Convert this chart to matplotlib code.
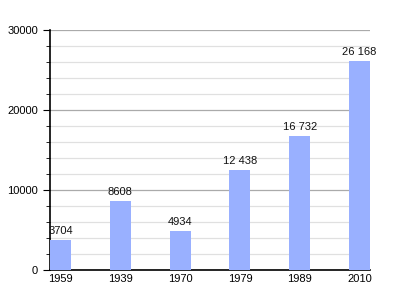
import matplotlib
matplotlib.use("Agg")
from matplotlib import pyplot as plt
from matplotlib.ticker import MultipleLocator

plt.rcParams["font.family"] = ["Liberation Sans", "DejaVu Sans"]

years = ["1959", "1939", "1970", "1979", "1989", "2010"]
population = [3704, 8608, 4934, 12438, 16732, 26168]
value_labels = ["3704", "8608", "4934", "12 438", "16 732", "26 168"]

fig = plt.figure(figsize=(4, 3), dpi=100)
ax = fig.add_axes([0.125, 0.1, 0.8, 0.8])

x = range(len(years))
ax.bar(x, population, width=0.35, color="#99b0ff", zorder=3)

for i, (v, lab) in enumerate(zip(population, value_labels)):
    ax.text(i, v + 500, lab, ha="center", va="bottom", fontsize=8, color="#111111")

ax.set_xlim(-0.175, 5.175)
ax.set_ylim(0, 30000)
ax.set_xticks(list(x))
ax.set_xticklabels(years, fontsize=8)
ax.yaxis.set_major_locator(MultipleLocator(10000))
ax.yaxis.set_minor_locator(MultipleLocator(2000))
ax.tick_params(axis="y", which="major", length=5, labelsize=8, direction="out")
ax.tick_params(axis="y", which="minor", length=3, direction="out")
ax.tick_params(axis="x", length=0, pad=3)

ax.grid(axis="y", which="major", color="#aaaaaa", linewidth=0.9, zorder=0)
ax.grid(axis="y", which="minor", color="#e0e0e0", linewidth=0.9, zorder=0)

for side in ["top", "right"]:
    ax.spines[side].set_visible(False)
ax.spines["left"].set_linewidth(1.2)
ax.spines["bottom"].set_linewidth(1.2)

fig.savefig("out.png", dpi=100)
